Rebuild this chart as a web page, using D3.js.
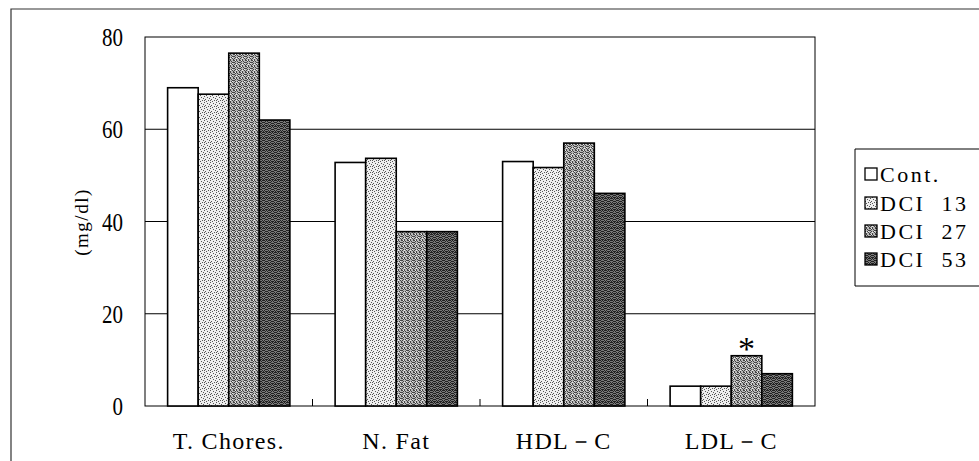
<!DOCTYPE html>
<html><head><meta charset="utf-8">
<script src="https://cdn.jsdelivr.net/npm/d3@7"></script>
<style>body{margin:0;background:#fff}svg{display:block}</style>
</head><body>
<svg id="c" width="979" height="461"></svg>
<script>
const categories = ["T. Chores.", "N. Fat", "HDL－C", "LDL－C"];
const seriesNames = ["Cont.", "DCI  13", "DCI  27", "DCI  53"];
const cont  = [69.0, 52.8, 53.0, 4.3];
const dci13 = [67.6, 53.7, 51.7, 4.3];
const dci27 = [76.5, 37.8, 57.0, 10.9];
const dci53 = [62.0, 37.8, 46.1, 7.0];
const yTicks = [0, 20, 40, 60, 80];
const marks = [{cat: "LDL－C", series: 2, text: "*"}];

const series = [cont, dci13, dci27, dci53];
const svg = d3.select("#c");
const L = 145, R = 815, T = 37, B = 406;
const serif = "'Liberation Serif','DejaVu Serif',serif";

// patterns
const defs = svg.append("defs");
const pat = [
  {id:"p0", base:"#ffffff", dot:null},
  {id:"p1", base:"#eeeeee", dot:"#555", n:7},
  {id:"p2", base:"#b8b8b8", dot:"#444", n:14},
  {id:"p3", base:"#7a7a7a", dot:"#222", n:18}
];
pat.forEach((p,k)=>{
  const g = defs.append("pattern").attr("id",p.id).attr("patternUnits","userSpaceOnUse")
    .attr("width",6).attr("height",6);
  g.append("rect").attr("width",6).attr("height",6).attr("fill",p.base);
  if(p.dot){
    const pts=[[0,0],[3,1],[1,3],[4,4],[2,5],[5,2],[0,4],[3,3],[5,0],[1,1],[4,2],[2,0],[0,2],[5,5],[3,5],[1,5],[4,0],[2,3]];
    pts.slice(0,p.n).forEach(d=>g.append("rect").attr("x",d[0]).attr("y",d[1]).attr("width",1).attr("height",1).attr("fill",p.dot));
    if(k===2){[[1,0],[4,3],[2,4]].forEach(d=>g.append("rect").attr("x",d[0]).attr("y",d[1]).attr("width",1).attr("height",1).attr("fill","#eee"));}
  }
});

// outer border
svg.append("path").attr("d","M11,461 L11,9 L979,9").attr("fill","none").attr("stroke","#333").attr("stroke-width",1.2);

const x0 = d3.scaleBand().domain(categories).range([L, R]).paddingInner(0.27).paddingOuter(0.135);
const x1 = d3.scaleBand().domain(d3.range(series.length)).range([0, x0.bandwidth()]);
const y = d3.scaleLinear().domain([0, 80]).range([B, T]);

// gridlines
svg.append("g").selectAll("line").data(yTicks.filter(t=>t>0 && t<80)).join("line")
  .attr("x1",L).attr("x2",R).attr("y1",d=>y(d)).attr("y2",d=>y(d))
  .attr("stroke","#000").attr("stroke-width",1);

// frame
svg.append("rect").attr("x",L).attr("y",T).attr("width",R-L).attr("height",B-T)
  .attr("fill","none").attr("stroke","#000").attr("stroke-width",1);

// category boundary ticks
const step = (R-L)/categories.length;
svg.append("g").selectAll("line").data(d3.range(1,categories.length)).join("line")
  .attr("x1",d=>L+d*step).attr("x2",d=>L+d*step).attr("y1",B).attr("y2",B-7)
  .attr("stroke","#000").attr("stroke-width",1);

// bars
const gBars = svg.append("g");
categories.forEach((c,i)=>{
  series.forEach((s,k)=>{
    gBars.append("rect")
      .attr("x", x0(c)+x1(k)).attr("y", y(s[i]))
      .attr("width", x1.bandwidth()).attr("height", y(0)-y(s[i]))
      .attr("fill", `url(#p${k})`).attr("stroke","#000").attr("stroke-width",1.6);
  });
});

// significance marks
marks.forEach(m=>{
  const i = categories.indexOf(m.cat);
  svg.append("text").attr("x", x0(m.cat)+x1(m.series)+x1.bandwidth()/2)
    .attr("y", y(series[m.series][i]) + 4)
    .attr("text-anchor","middle").attr("font-family",serif).attr("font-size",34)
    .attr("font-weight","normal").text(m.text);
});

// y axis labels
const yAxis = d3.axisLeft(y).tickValues(yTicks).tickSize(0).tickPadding(0).tickFormat(d3.format("d"));
const ya = svg.append("g").attr("transform",`translate(${L-22},0)`).call(yAxis);
ya.select(".domain").remove();
ya.selectAll(".tick text").attr("font-family",serif).attr("font-size",25).attr("fill","#000")
  .attr("x",0).attr("dy","0.34em").attr("transform","scale(0.84,1)");

// y title
svg.append("text").attr("transform","translate(81,222) rotate(-90)")
  .attr("text-anchor","middle").attr("font-family",serif).attr("font-size",19)
  .attr("letter-spacing",1.5).attr("dominant-baseline","central").text("(mg/dl)");

// x axis labels
const xAxis = d3.axisBottom(x0).tickSize(0).tickPadding(0);
const xa = svg.append("g").attr("transform",`translate(0,${B})`).call(xAxis);
xa.select(".domain").remove();
xa.selectAll(".tick text").attr("font-family",serif).attr("font-size",24).attr("fill","#000")
  .attr("y",43).attr("dy",0).attr("letter-spacing",1.3);

// legend
const lg = svg.append("g");
lg.append("path").attr("d","M979,149 L855,149 L855,286 L979,286").attr("fill","none").attr("stroke","#000").attr("stroke-width",1);
const rowY = [174, 203, 231, 259];
seriesNames.forEach((n,k)=>{
  const cy = rowY[k];
  lg.append("rect").attr("x",865).attr("y",cy-6).attr("width",12).attr("height",12)
    .attr("fill",`url(#p${k})`).attr("stroke","#000").attr("stroke-width",1.3);
  lg.append("text").attr("x",880).attr("y",cy+8).attr("font-family",serif).attr("font-size",22)
    .attr("letter-spacing",2.5).style("white-space","pre").text(n);
});
</script>
</body></html>
